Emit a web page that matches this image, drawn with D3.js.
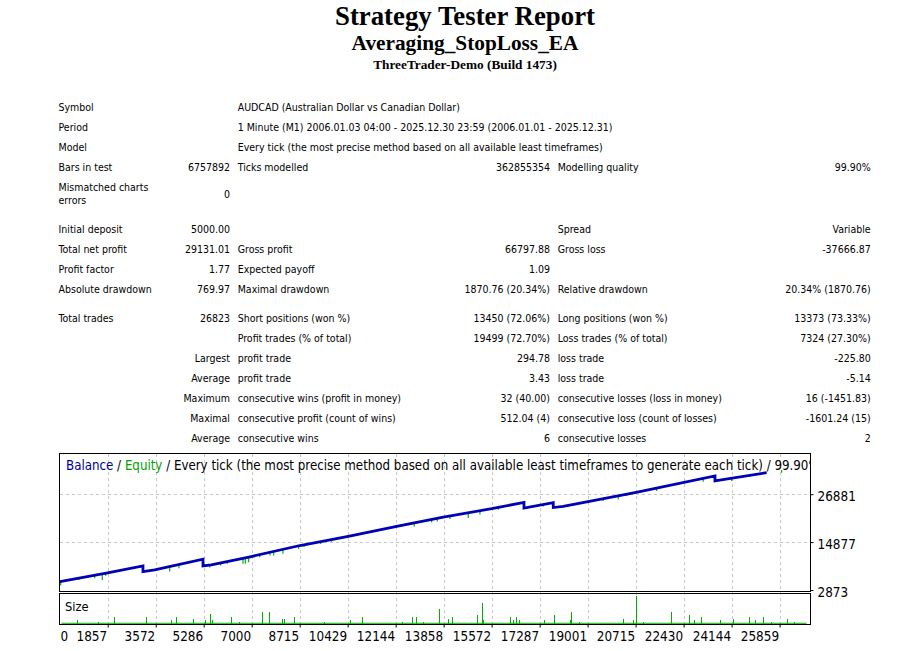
<!DOCTYPE html>
<html>
<head>
<meta charset="utf-8">
<script src="https://cdn.jsdelivr.net/npm/d3@7"></script>
<style>
  body { margin: 0; background: #fff; }
  svg text { font-family: "DejaVu Sans Condensed", "Liberation Sans", sans-serif; fill: #000; }
</style>
</head>
<body>
<div id="report"></div>
<script>
// ---- values ----
const titleLines = ["Strategy Tester Report", "Averaging_StopLoss_EA", "ThreeTrader-Demo (Build 1473)"];

// summary table, 6 columns: label, value, label, value, label, value
const testRows = [
  ["Symbol", "", "AUDCAD (Australian Dollar vs Canadian Dollar)", "", "", ""],
  ["Period", "", "1 Minute (M1) 2006.01.03 04:00 - 2025.12.30 23:59 (2006.01.01 - 2025.12.31)", "", "", ""],
  ["Model", "", "Every tick (the most precise method based on all available least timeframes)", "", "", ""],
  ["Bars in test", "6757892", "Ticks modelled", "362855354", "Modelling quality", "99.90%"]
];
const mismatchedRow = [["Mismatched charts", "errors"], "0"];
const moneyRows = [
  ["Initial deposit", "5000.00", "", "", "Spread", "Variable"],
  ["Total net profit", "29131.01", "Gross profit", "66797.88", "Gross loss", "-37666.87"],
  ["Profit factor", "1.77", "Expected payoff", "1.09", "", ""],
  ["Absolute drawdown", "769.97", "Maximal drawdown", "1870.76 (20.34%)", "Relative drawdown", "20.34% (1870.76)"]
];
const tradeRows = [
  ["Total trades", "26823", "Short positions (won %)", "13450 (72.06%)", "Long positions (won %)", "13373 (73.33%)"],
  ["", "", "Profit trades (% of total)", "19499 (72.70%)", "Loss trades (% of total)", "7324 (27.30%)"],
  ["", "Largest", "profit trade", "294.78", "loss trade", "-225.80"],
  ["", "Average", "profit trade", "3.43", "loss trade", "-5.14"],
  ["", "Maximum", "consecutive wins (profit in money)", "32 (40.00)", "consecutive losses (loss in money)", "16 (-1451.83)"],
  ["", "Maximal", "consecutive profit (count of wins)", "512.04 (4)", "consecutive loss (count of losses)", "-1601.24 (15)"],
  ["", "Average", "consecutive wins", "6", "consecutive losses", "2"]
];

const chartTitleParts = ["Balance", " / ", "Equity", " / Every tick (the most precise method based on all available least timeframes to generate each tick) / 99.90%"];
const sizeLabel = "Size";

// balance curve (trade number, balance); repeated trade = stop loss drop
const balanceTrades = [150, 1807, 3117, 3117, 3535, 5261, 5261, 5557, 6986, 8725, 10451, 12180, 13845, 15573, 16727, 16727, 17774, 17774, 18131, 20692, 23550, 23550, 25396];
const balanceValues = [5000, 7090, 8922, 7493, 7918, 10604, 8922, 9174, 11260, 14022, 16281, 18792, 21153, 23237, 24819, 23413, 24743, 23539, 23815, 27254, 31448, 30193, 32276];

// equity lows (green spikes under the balance)
const equityTrades = [178, 821, 1392, 1664, 1785, 4071, 4403, 5500, 5893, 6129, 6689, 6772, 6893, 7286, 7654, 7786, 8118, 8679, 8868, 9465, 9858, 11440, 12808, 13430, 13630, 14083, 14737, 15155, 15809, 16823, 17416, 18370, 19559, 20095, 20395, 21467, 23131, 24146, 24800, 25157, 25932];
const equityLows = [3978, 5409, 5836, 5409, 6413, 7493, 8347, 8498, 9000, 9427, 9427, 9427, 9854, 11109, 11511, 11511, 11938, 13118, 13620, 14374, 14951, 17387, 18793, 19797, 20048, 20651, 20902, 21806, 22986, 23162, 23815, 23915, 25171, 25572, 26426, 27682, 30017, 30193, 31273, 31700, 32956];

// lot size per trade (base lot everywhere else)
const baseLot = 0.01;
const totalTrades = 26823;
const sizeTrades = [771, 1521, 2092, 3214, 4128, 4307, 4893, 5343, 5511, 5571, 6250, 6557, 7357, 7629, 8072, 8165, 8522, 9572, 10522, 10951, 12358, 12737, 12869, 13130, 13680, 14001, 14166, 15037, 15216, 15252, 16237, 16323, 16441, 16559, 17452, 17809, 18359, 18416, 18702, 20273, 20631, 20727, 20967, 21988, 22631, 22810, 23060, 23728, 24203, 24774, 24989, 25274, 25538, 26131, 26381];
const sizeLots = [0.04, 0.02, 0.07, 0.07, 0.04, 0.07, 0.05, 0.04, 0.10, 0.04, 0.07, 0.02, 0.12, 0.12, 0.05, 0.05, 0.07, 0.02, 0.04, 0.07, 0.02, 0.07, 0.07, 0.02, 0.15, 0.05, 0.07, 0.09, 0.21, 0.04, 0.07, 0.04, 0.07, 0.04, 0.04, 0.09, 0.04, 0.12, 0.02, 0.05, 0.04, 0.27, 0.02, 0.12, 0.09, 0.04, 0.07, 0.04, 0.05, 0.07, 0.04, 0.07, 0.02, 0.05, 0.02];

// axis ticks
const xTickLabels = [0, 1857, 3572, 5286, 7000, 8715, 10429, 12144, 13858, 15572, 17287, 19001, 20715, 22430, 24144, 25859];
const yTickLabels = [2873, 14877, 26881];
const xExtent = [135, 26963];
const yExtent = [2873, 37200];
const sizeExtent = [0, 0.30];

class TesterReport {
    constructor(parent) {
        this.parent = parent;
        this.width = 907;
        this.height = 651;
        // chart panels
        this.plot = { left: 59.5, right: 810.5, top: 453.5, bottom: 591.5, sizeTop: 593.5, sizeBottom: 624.5 };
        this.initVis();
    }

    initVis() {
        let vis = this;
        vis.svg = d3.select(vis.parent)
            .append("svg")
            .attr("width", vis.width)
            .attr("height", vis.height);

        vis.drawHeader();
        vis.drawSummary();
        vis.drawChart();
    }

    drawHeader() {
        let vis = this;
        const sizes = [26.8, 21.3, 13.3];
        const baselines = [24.5, 49.5, 68.5];
        vis.svg.selectAll(".head")
            .data(titleLines)
            .enter()
            .append("text")
            .attr("class", "head")
            .attr("x", 465)
            .attr("y", (d, i) => baselines[i])
            .attr("text-anchor", "middle")
            .style("font-family", "'Liberation Serif', 'Times New Roman', serif")
            .style("font-weight", "bold")
            .style("font-size", (d, i) => sizes[i] + "px")
            .text(d => d);
    }

    drawSummary() {
        let vis = this;
        const colX = [58.5, 230, 237.7, 550, 557.7, 870.7];
        const anchors = ["start", "end", "start", "end", "start", "end"];

        const table = vis.svg.append("g");

        const addRows = (rows, firstBaseline) => {
            rows.forEach((row, r) => {
                row.forEach((cell, c) => {
                    if (!cell) return;
                    table.append("text")
                        .attr("x", colX[c])
                        .attr("y", firstBaseline + r * 20)
                        .attr("text-anchor", anchors[c])
                        .style("font-size", "10.5px")
                        .text(cell);
                });
            });
        };

        addRows(testRows, 110.5);

        // two line label
        const mm = table.append("text")
            .attr("x", colX[0])
            .attr("y", 190.5)
            .style("font-size", "10.5px");
        mm.selectAll("tspan")
            .data(mismatchedRow[0])
            .enter()
            .append("tspan")
            .attr("x", colX[0])
            .attr("dy", (d, i) => i === 0 ? 0 : 13.5)
            .text(d => d);
        table.append("text")
            .attr("x", colX[1])
            .attr("y", 197.5)
            .attr("text-anchor", "end")
            .style("font-size", "10.5px")
            .text(mismatchedRow[1]);

        addRows(moneyRows, 232.5);
        addRows(tradeRows, 321.5);
    }

    drawChart() {
        let vis = this;
        const p = vis.plot;

        vis.xScale = d3.scaleLinear().domain(xExtent).range([p.left, p.right]);
        vis.yScale = d3.scaleLinear().domain(yExtent).range([590, 453]);
        vis.sizeScale = d3.scaleLinear().domain(sizeExtent).range([624.3, 593.3]);

        const chart = vis.svg.append("g");

        chart.append("clipPath").attr("id", "mainClip")
            .append("rect")
            .attr("x", p.left).attr("y", p.top)
            .attr("width", p.right - p.left).attr("height", p.bottom - p.top);

        // grid
        const gridX = xTickLabels.filter(d => vis.xScale(d) > p.left);
        chart.selectAll(".vgrid")
            .data(gridX)
            .enter()
            .append("line")
            .attr("x1", d => Math.round(vis.xScale(d)) + 0.5)
            .attr("x2", d => Math.round(vis.xScale(d)) + 0.5)
            .attr("y1", p.top)
            .attr("y2", p.sizeBottom)
            .attr("stroke", "#c8c8c8")
            .attr("stroke-dasharray", "3,3")
            .attr("shape-rendering", "crispEdges");

        chart.selectAll(".hgrid")
            .data(yTickLabels.filter(d => d > yExtent[0]))
            .enter()
            .append("line")
            .attr("x1", p.left)
            .attr("x2", p.right)
            .attr("y1", d => Math.round(vis.yScale(d)) + 0.5)
            .attr("y2", d => Math.round(vis.yScale(d)) + 0.5)
            .attr("stroke", "#c8c8c8")
            .attr("stroke-dasharray", "3,3")
            .attr("shape-rendering", "crispEdges");

        // title inside the chart, clipped by the panel like the original
        const colors = ["#00008c", "#000", "#00a000", "#000"];
        const title = chart.append("text")
            .attr("x", 66)
            .attr("y", 469.5)
            .attr("clip-path", "url(#mainClip)")
            .style("font-size", "13.2px");
        title.selectAll("tspan")
            .data(chartTitleParts)
            .enter()
            .append("tspan")
            .style("fill", (d, i) => colors[i])
            .style("white-space", "pre")
            .text(d => d);

        // balance at a given trade, for the equity spikes
        const balanceAt = t => {
            const i = d3.bisectRight(balanceTrades, t);
            if (i <= 0) return balanceValues[0];
            if (i >= balanceTrades.length) return balanceValues[balanceValues.length - 1];
            const t0 = balanceTrades[i - 1], t1 = balanceTrades[i];
            return balanceValues[i - 1] + (balanceValues[i] - balanceValues[i - 1]) * (t - t0) / (t1 - t0);
        };

        // equity spikes
        chart.selectAll(".eq")
            .data(d3.zip(equityTrades, equityLows))
            .enter()
            .append("line")
            .attr("x1", d => vis.xScale(d[0]))
            .attr("x2", d => vis.xScale(d[0]))
            .attr("y1", d => vis.yScale(balanceAt(d[0])))
            .attr("y2", d => vis.yScale(d[1]))
            .attr("stroke", "#00b400")
            .attr("stroke-width", 1.2);

        // balance line
        const line = d3.line()
            .x(d => vis.xScale(d[0]))
            .y(d => vis.yScale(d[1]));
        chart.append("path")
            .attr("d", line(d3.zip(balanceTrades, balanceValues)))
            .attr("fill", "none")
            .attr("stroke", "#0000b4")
            .attr("stroke-width", 2.8);

        // size panel: base lot line and spikes
        chart.append("line")
            .attr("x1", vis.xScale(xExtent[0]) + 2)
            .attr("x2", vis.xScale(totalTrades))
            .attr("y1", vis.sizeScale(baseLot))
            .attr("y2", vis.sizeScale(baseLot))
            .attr("stroke", "#00b000")
            .attr("stroke-width", 1);

        chart.selectAll(".lot")
            .data(d3.zip(sizeTrades, sizeLots))
            .enter()
            .append("line")
            .attr("x1", d => Math.round(vis.xScale(d[0])) + 0.5)
            .attr("x2", d => Math.round(vis.xScale(d[0])) + 0.5)
            .attr("y1", vis.sizeScale(0))
            .attr("y2", d => vis.sizeScale(d[1]))
            .attr("stroke", "#00b000")
            .attr("stroke-width", 1)
            .attr("shape-rendering", "crispEdges");

        chart.append("text")
            .attr("x", 65)
            .attr("y", 610.5)
            .style("font-size", "12.8px")
            .text(sizeLabel);

        // panel borders
        chart.append("rect")
            .attr("x", p.left).attr("y", p.top)
            .attr("width", p.right - p.left).attr("height", p.bottom - p.top)
            .attr("fill", "none").attr("stroke", "#000")
            .attr("shape-rendering", "crispEdges");
        chart.append("rect")
            .attr("x", p.left).attr("y", p.sizeTop)
            .attr("width", p.right - p.left).attr("height", p.sizeBottom - p.sizeTop)
            .attr("fill", "none").attr("stroke", "#000")
            .attr("shape-rendering", "crispEdges");

        // right axis
        const yAxis = d3.axisRight(vis.yScale)
            .tickValues(yTickLabels)
            .tickSize(3)
            .tickPadding(4)
            .tickFormat(d3.format("d"));
        const yg = chart.append("g")
            .attr("transform", `translate(${p.right},0)`)
            .call(yAxis);
        yg.select(".domain").remove();
        yg.selectAll("text")
            .attr("dy", "0.46em")
            .style("font-size", "13.4px")
            .style("font-family", "'DejaVu Sans Condensed', 'Liberation Sans', sans-serif");

        // bottom axis
        const xAxis = d3.axisBottom(vis.xScale)
            .tickValues(gridX)
            .tickSize(3)
            .tickFormat(d3.format("d"));
        const xg = chart.append("g")
            .attr("transform", `translate(0,${p.sizeBottom})`)
            .call(xAxis);
        xg.select(".domain").remove();
        xg.selectAll("text")
            .attr("y", 16.5)
            .attr("dy", 0)
            .attr("x", -1)
            .attr("text-anchor", "end")
            .style("font-size", "13.4px")
            .style("font-family", "'DejaVu Sans Condensed', 'Liberation Sans', sans-serif");

        // first label sits on the left edge
        chart.append("text")
            .attr("x", p.left + 1)
            .attr("y", p.sizeBottom + 16.5)
            .style("font-size", "13.4px")
            .text(xTickLabels[0]);
    }
}

new TesterReport("#report");
</script>
</body>
</html>
